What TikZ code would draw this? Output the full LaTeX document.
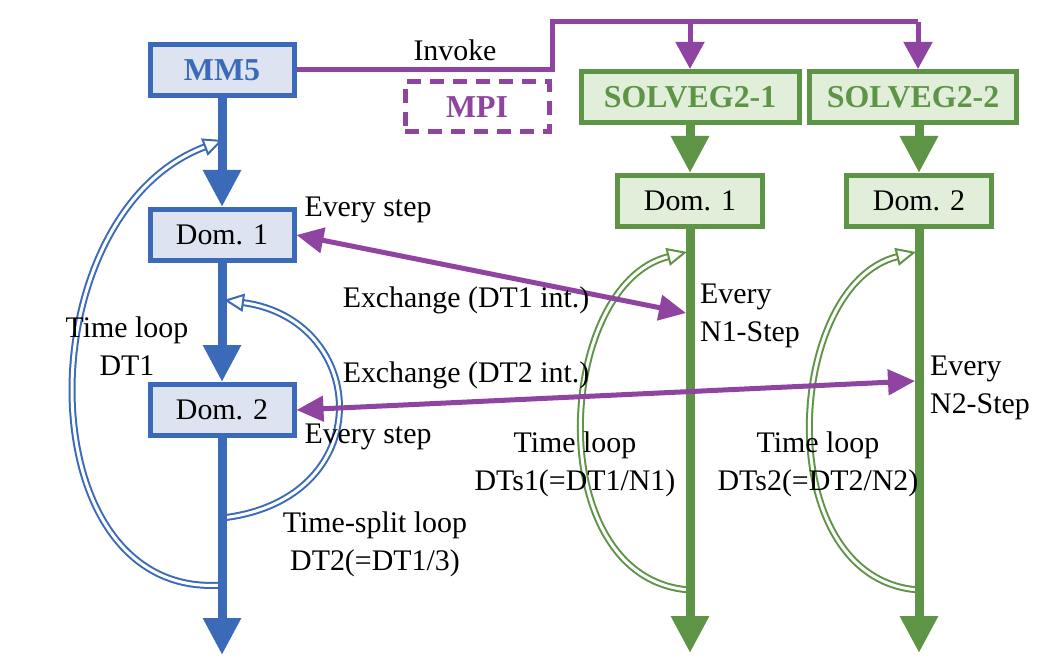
\documentclass[tikz,border=0pt]{standalone}
\usepackage{fontspec}
\setmainfont{Liberation Serif}
\usetikzlibrary{arrows.meta}
\definecolor{cblue}{RGB}{58,106,184}
\definecolor{fblue}{RGB}{221,227,240}
\definecolor{cgreen}{RGB}{94,148,70}
\definecolor{fgreen}{RGB}{225,238,217}
\definecolor{cpurp}{RGB}{142,68,160}
\begin{document}
\begin{tikzpicture}[x=1bp,y=-1bp,font=\fontsize{30}{38}\selectfont,
  bbox/.style={draw=cblue,fill=fblue,line width=5bp,minimum width=144bp,minimum height=51bp,inner sep=0pt},
  gbox/.style={draw=cgreen,fill=fgreen,line width=5bp,minimum height=51bp,inner sep=0pt},
  ttl/.style={font=\fontsize{32}{38}\selectfont\bfseries},
  bflow/.style={draw=cblue,line width=9bp,-{Triangle[length=37bp,width=36bp]}},
  gflow/.style={draw=cgreen,line width=9bp,-{Triangle[length=37bp,width=36bp]}},
  invk/.style={draw=cpurp,line width=5bp},
  invarr/.style={draw=cpurp,line width=5bp,-{Triangle[length=27bp,width=28bp]}},
  xch/.style={draw=cpurp,line width=5bp,{Triangle[length=27bp,width=25bp]}-{Triangle[length=27bp,width=25bp]}},
  bloop/.style={draw=cblue,double=white,double distance=3bp,line width=2bp,-{Triangle[open,length=20bp,width=18bp]}},
  gloop/.style={draw=cgreen,double=white,double distance=3bp,line width=2bp,-{Triangle[open,length=20bp,width=18bp]}},
  lbl/.style={inner sep=0pt,align=center}
]
\useasboundingbox (0,0) rectangle (1062,661);
\fill[white] (0,0) rectangle (1062,661);

% boxes
\node[bbox,ttl,text=cblue] (mm5) at (222,70) {MM5};
\node[bbox] (bd1) at (222,235) {Dom. 1};
\node[bbox] (bd2) at (222,410) {Dom. 2};
\node[draw=cpurp,line width=5bp,dash pattern=on 14bp off 9bp,minimum width=144bp,minimum height=50bp,inner sep=0pt,ttl,text=cpurp] (mpi) at (477,107) {MPI};
\node[gbox,ttl,text=cgreen,minimum width=218bp] (sg1) at (690,97) {SOLVEG2-1};
\node[gbox,ttl,text=cgreen,minimum width=207bp] (sg2) at (913,97) {SOLVEG2-2};
\node[gbox,minimum width=145bp] (gd1) at (690,201) {Dom. 1};
\node[gbox,minimum width=145bp] (gd2) at (919,201) {Dom. 2};

% coordinates
\coordinate (j1) at (552,70);
\coordinate (t1) at (690,22);
\coordinate (t2) at (918,22);
\coordinate (bend) at (222,655);
\coordinate (g1end) at (690,653);
\coordinate (g2end) at (919,653);
\coordinate (lb1) at (222,585);
\coordinate (lt1) at (223,140);
\coordinate (lb2) at (222,518);
\coordinate (lt2) at (224,300);
\coordinate (gb1) at (690,590);
\coordinate (gt1) at (687,252);
\coordinate (gb2) at (919,590);
\coordinate (gt2) at (916,252);
\coordinate (x1) at (686,313);
\coordinate (x2) at (915,381);

% loops (behind)
\draw[bloop] (lb1) .. controls (25,600) and (25,215) .. (lt1);
\draw[bloop] (lb2) .. controls (380,500) and (370,320) .. (lt2);
\draw[gloop] (gb1) .. controls (540,580) and (555,285) .. (gt1);
\draw[gloop] (gb2) .. controls (769,580) and (784,285) .. (gt2);

% invoke
\draw[invk] (mm5.east) -- (j1) |- (t2);
\draw[invarr] (t1) -- (sg1.north);
\draw[invarr] (t2) -- (t2 |- sg2.north);
\node[lbl] (inv) at (455,50) {Invoke};

% main flows
\draw[bflow] (mm5.south) -- (bd1.north);
\draw[bflow] (bd1.south) -- (bd2.north);
\draw[bflow] (bd2.south) -- (bend);
\draw[gflow] (sg1.south -| gd1.north) -- (gd1.north);
\draw[gflow] (gd2.north |- sg2.south) -- (gd2.north);
\draw[gflow] (gd1.south) -- (g1end);
\draw[gflow] (gd2.south) -- (g2end);

% exchanges
\draw[xch] (bd1.east) -- (x1);
\draw[xch] (bd2.east) -- (x2);

% labels
\node[lbl] (es1) at (368,210) {Every step};
\node[lbl] (ex1) at (466,300) {Exchange (DT1 int.)};
\node[lbl] (ex2) at (466,375) {Exchange (DT2 int.)};
\node[lbl] (es2) at (368,437) {Every step};
\node[lbl] (tl1) at (127,346) {Time loop\\DT1};
\node[lbl] (tsl) at (375,544) {Time-split loop\\DT2(=DT1/3)};
\node[lbl] (tl2) at (575,464) {Time loop\\DTs1(=DT1/N1)};
\node[lbl] (tl3) at (818,464) {Time loop\\DTs2(=DT2/N2)};
\node[lbl,align=left,anchor=west] (n1) at (700,316) {Every\\N1-Step};
\node[lbl,align=left,anchor=west] (n2) at (930,388) {Every\\N2-Step};
\end{tikzpicture}
\end{document}
